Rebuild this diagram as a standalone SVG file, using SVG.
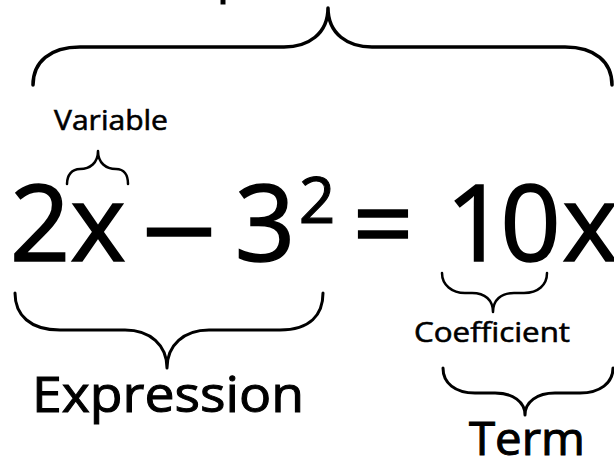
<svg xmlns="http://www.w3.org/2000/svg" width="614" height="461" viewBox="0 0 614 461">
<style>
  text { font-family: "Open Sans", "Noto Sans", "DejaVu Sans", sans-serif; fill: #000; stroke: #000; stroke-width: 0.6px; }
  .big { font-size: 106px; text-anchor: middle; stroke-width: 1.6px; }
  .mid { stroke-width: 1px; }
  .brace { fill: none; stroke: #000; stroke-linecap: round; stroke-linejoin: round; }
</style>
<rect width="614" height="461" fill="#fff"/>
<g id="equation-label">
  <text class="mid" x="172" y="-8" font-size="49">Equation</text>
</g>
<g id="main-equation">
  <text class="big" x="40" y="261">2</text>
  <text class="big" x="98" y="261">x</text>
  <text class="big" x="142" y="261" textLength="74" lengthAdjust="spacingAndGlyphs" style="text-anchor:start">–</text>
  <text class="big" x="265" y="261">3</text>
  <text x="317" y="223" font-size="64" text-anchor="middle" style="stroke-width:1.1px">2</text>
  <text class="big" x="383" y="261">=</text>
  <text class="big" x="476" y="261">1</text>
  <text class="big" x="530.5" y="261">0</text>
  <text class="big" x="590" y="261">x</text>
</g>
<g id="label-variable">
  <text x="54" y="130" font-size="28" textLength="114" lengthAdjust="spacingAndGlyphs">Variable</text>
</g>
<g id="label-coefficient">
  <text x="414" y="342" font-size="28" textLength="156" lengthAdjust="spacingAndGlyphs">Coefficient</text>
</g>
<g id="label-expression">
  <text class="mid" x="32" y="412" font-size="49" textLength="272" lengthAdjust="spacingAndGlyphs">Expression</text>
</g>
<g id="label-term">
  <text class="mid" x="469" y="455" font-size="45" textLength="116" lengthAdjust="spacingAndGlyphs">Term</text>
</g>
<g id="connectors">
  <path id="brace-equation" class="brace" stroke-width="3.5" d="M33,85 C33,62 50,47 80,47 L284,47 C308,47 328,34 328,8 C328,34 348,47 372,47 L565,47 C595,47 612,62 612,85"/>
  <path id="brace-variable" class="brace" stroke-width="2.5" d="M67,184 C67,175 72,169 80,169 C90,169 98,163 98,151 C98,163 106,169 116,169 C124,169 128,175 128,184"/>
  <path id="brace-expression" class="brace" stroke-width="3" d="M15,293 C15,315 30,330 60,330 L125,330 C150,330 167,345 167,368 C167,345 184,330 209,330 L280,330 C310,330 323,315 323,293"/>
  <path id="brace-coefficient" class="brace" stroke-width="2.5" d="M442,273 C442,285 452,293 465,293 L472,293 C485,293 493,300 493,312 C493,300 501,293 514,293 L524,293 C538,293 547,285 547,273"/>
  <path id="brace-term" class="brace" stroke-width="3" d="M443,368 C443,383 455,393 475,393 L495,393 C513,393 525,402 525,415 C525,402 537,393 555,393 L580,393 C600,393 613,383 613,368"/>
</g>
</svg>
